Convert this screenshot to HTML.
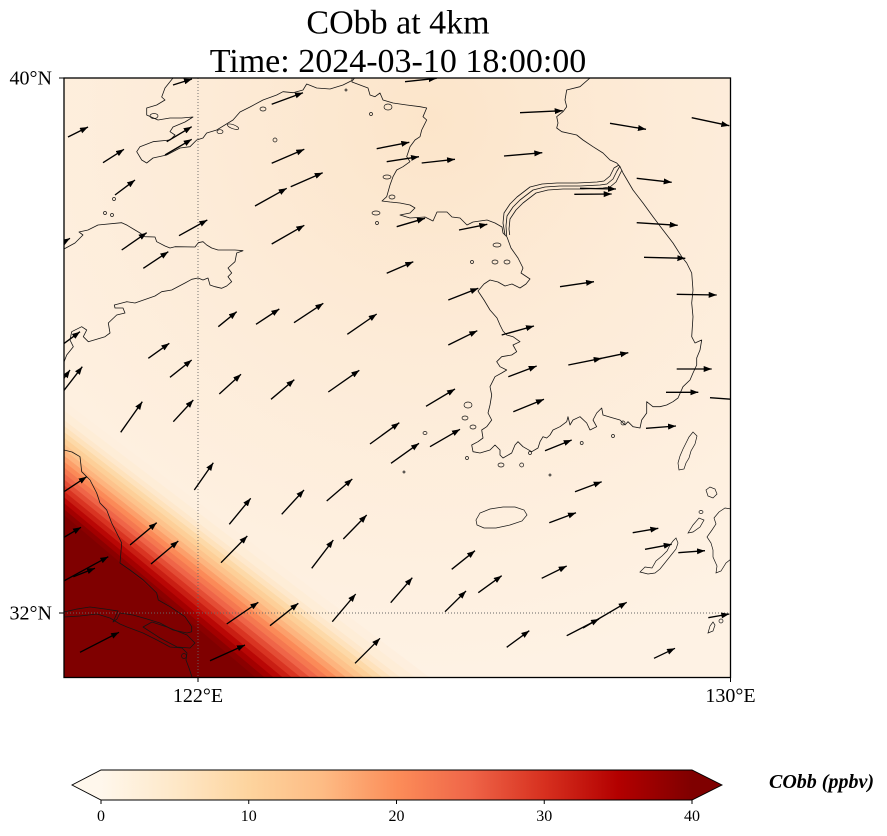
<!DOCTYPE html>
<html><head><meta charset="utf-8"><style>
html,body{margin:0;padding:0;background:#fff}
svg{display:block}
.c{fill:none;stroke:#151515;stroke-width:0.8;stroke-linejoin:round}
.i{fill:none;stroke:#151515;stroke-width:0.7}
.a{stroke:#000;stroke-width:1.35;fill:none;marker-end:url(#ah)}
.t{font-family:"Liberation Serif",serif;fill:#000}
</style></head><body>
<svg width="887" height="836" viewBox="0 0 887 836" xmlns="http://www.w3.org/2000/svg">
<defs>
<marker id="ah" markerUnits="userSpaceOnUse" markerWidth="9" markerHeight="7" viewBox="0 0 9 7" refX="8" refY="3" orient="auto"><path d="M0,0 L8,3 L0,6 Z" fill="#000"/></marker>
<clipPath id="mc"><rect x="64" y="78" width="666.5" height="599.5"/></clipPath>
<radialGradient id="bg" gradientUnits="userSpaceOnUse" cx="430" cy="120" r="560">
<stop offset="0" stop-color="#fce5ca"/><stop offset="0.4" stop-color="#fdebd7"/><stop offset="1" stop-color="#fef2e4"/>
</radialGradient>
<linearGradient id="cb" gradientUnits="userSpaceOnUse" x1="101" y1="0" x2="692" y2="0">
<stop offset="0" stop-color="#fff7ec"/><stop offset="0.125" stop-color="#fee8c8"/><stop offset="0.25" stop-color="#fdd49e"/><stop offset="0.375" stop-color="#fdbb84"/><stop offset="0.5" stop-color="#fc8d59"/><stop offset="0.625" stop-color="#ef6548"/><stop offset="0.75" stop-color="#d7301f"/><stop offset="0.875" stop-color="#b30000"/><stop offset="1" stop-color="#7f0000"/>
</linearGradient>
</defs>

<text class="t" x="398" y="33.5" font-size="34" text-anchor="middle">CObb at 4km</text>
<text class="t" x="398" y="72" font-size="34" text-anchor="middle">Time: 2024-03-10 18:00:00</text>

<g clip-path="url(#mc)">
<rect x="64" y="78" width="667" height="600" fill="url(#bg)"/>
<polygon points="64,401 429,677 64,677" fill="#feefde"/>
<polygon points="64,410.5 414.5,677 64,677" fill="#feedd7"/>
<polygon points="64,420 400,677 64,677" fill="#fee8cc"/>
<polygon points="64,425.9 390.9,677 64,677" fill="#fee2bc"/>
<polygon points="64,431.9 381.9,677 64,677" fill="#fdd9a8"/>
<polygon points="64,437.8 372.8,677 64,677" fill="#fdcf98"/>
<polygon points="64,443.8 363.8,677 64,677" fill="#fdc38c"/>
<polygon points="64,449.7 354.7,677 64,677" fill="#fdb47e"/>
<polygon points="64,455.6 345.6,677 64,677" fill="#fc9f6a"/>
<polygon points="64,461.6 336.6,677 64,677" fill="#fb8a58"/>
<polygon points="64,467.5 327.5,677 64,677" fill="#f57850"/>
<polygon points="64,473.4 318.4,677 64,677" fill="#ef6548"/>
<polygon points="64,479.4 309.4,677 64,677" fill="#e44d35"/>
<polygon points="64,485.3 300.3,677 64,677" fill="#d93422"/>
<polygon points="64,491.3 291.3,677 64,677" fill="#c91e13"/>
<polygon points="64,497.2 282.2,677 64,677" fill="#b90705"/>
<polygon points="64,503.1 273.1,677 64,677" fill="#a30000"/>
<polygon points="64,509.1 264.1,677 64,677" fill="#8b0000"/>
<polygon points="64,515 255,677 64,677" fill="#7f0000"/>

<line x1="198" y1="78" x2="198" y2="677" stroke="#666" stroke-width="0.9" stroke-dasharray="1,2"/>
<line x1="64" y1="613" x2="731" y2="613" stroke="#666" stroke-width="0.9" stroke-dasharray="1,2"/>

<path class="c" d="M173,78 L165,88 L161.7,97 L165,100 L156.7,105 L146.7,108 L146.7,115 L158,120 L170,118 L181.7,118 L193,117 L185,122 L173,127 L170,131.7 L175,135 L170,140 L153,141.7 L140,146.7 L136.7,151.7 L141.7,160 L146.7,163 L153,158 L166.7,155 L180,148 L190,146.7 L196.7,140 L203,138 L206.7,133 L216.7,130 L233,120 L240,112 L250,107 L263,100 L276.7,95 L283,91.7 L293,92.7 L303,90 L306.7,84 L316.7,88 L330,89 L343,85 L353,80 L356,76"/>
<path class="c" d="M352,76 L352,82 L360,85 L368,88 L370,95 L375,96.7 L380,93 L383,100 L393,103 L406.7,105 L420,106.7 L426.7,108 L423,116.7 L426.7,120 L421.7,130 L420,136.7 L415,140 L410,146.7 L406.7,156.7 L410,161.7 L403,166.7 L396.7,170 L393,176.7 L390,185 L386.7,196.7 L382,201 L390,202 L400,203 L410,205 L415,208 L410,213 L400,215 L410,218 L425,217 L433,221 L437,212 L447,212 L452,217 L460,218 L467,225 L473,222 L487,220 L495,223 L502,227 L503,233 L507,237 L511,248 L518,258 L523,268 L521,273 L530,279 L526,284 L520,288 L512,284 L505,286 L498,282 L490,280 L484,284 L478,291 L484,300 L490,310 L497,318 L500,325 L503,331 L506.7,335 L513,336.7 L520,341.7 L513,345 L516.7,351.7 L511.7,355 L501.7,356.7 L496.7,361.7 L500,366.7 L506.7,370 L501.7,373 L495,376.7 L490,386.7 L491.7,395 L490,405 L488,413 L491.7,420 L486.7,426.7 L481.7,430 L483,438 L478,441.7 L471.7,445 L473,451.7 L480,453 L490,450 L495,445 L500,450 L500,455 L503,458 L511.7,453 L515,445 L518,441.7 L523,446.7 L531.7,451.7 L538,448 L540,441.7 L543,436.7 L546.7,438 L550,435 L553,430 L560,426.7 L566.7,421.7 L568,416.7 L570,425 L573,420 L580,416.7 L586.7,423 L590,430 L596.7,426.7 L593,420 L596.7,413 L601.7,408 L603,415 L613,418 L620,420 L625,425 L628,421.7 L633,426.7 L640,428 L641.7,420 L646.7,413 L646.7,401.7 L653,406.7 L660,406.7 L666.7,405 L673,401.7 L678,398 L683,386.7 L690,380 L693,373 L696.7,365 L696.7,358 L700,350 L701.7,340 L695,343 L691.7,336.7 L693,316.7 L691.7,303 L693,290 L691.7,273 L686.7,263 L681.7,256.7 L673,243 L663,230 L653,216.7 L643,203 L633,190 L623,173 L620,166.7 L616.7,163 L610,160 L603,153 L593,146.7 L583,140 L576.7,135 L561.7,131.7 L556.7,128 L558,123 L556.7,116.7 L563,111.7 L566.7,106.7 L565,100 L566.7,90 L580,86.7 L590,78 L592,75"/>
<g class="c">
<path d="M506.7,236 L506,226 L507,216 L513,207 L520,200 L533,190 L545,187 L560,186 L580,186 L600,185 L607,184 L613,179 L617,171 L620,166"/>
<path transform="translate(3,3)" d="M506.7,232 L506,226 L507,216 L513,207 L520,200 L533,190 L545,187 L560,186 L580,186 L600,185 L607,184 L613,179 L617,171 L619,167"/>
<path transform="translate(-3,-3)" d="M508,238 L506,226 L507,216 L513,207 L520,200 L533,190 L545,187 L560,186 L580,186 L600,185 L607,184 L613,179 L617,171 L622,168"/>
</g>
<path class="c" d="M64,249 L75,243 L83,235 L79,232 L88,230 L98,225 L121.7,222.7 L126.7,225 L135,230 L140,233 L145,236.7 L155,237 L156.7,241.7 L165,246 L170,248 L175,246.7 L195,247 L198.3,242.7 L203,241.7 L206.7,245 L211.7,248 L218,250 L235,250 L243,250.7 L236.7,253 L235,261.7 L228,268 L231.7,273 L228,276.7 L231.7,281.7 L226.7,286 L221.7,288.3 L215,286.7 L210,285 L208,278 L203,280 L198,278 L191.7,279.3 L185,283 L171.7,290 L161.7,291.7 L155,296 L135,303 L126.7,301.7 L114.3,305 L115,308 L123,308 L125,313 L116.7,315 L108.3,323 L110,333 L105,336.7 L88.3,341.7 L83.3,336.7 L86.7,330 L81.7,326.7 L71.7,331.7 L70,340 L73.3,346.7 L66.7,355 L64,362"/>
<path class="c" d="M64,450 L72,452 L80,456.7 L81.7,471.7 L90,480 L96.7,493 L100,503 L106.7,510 L111.7,523 L116.7,533 L121.7,543 L120,563 L130,570 L143.3,580 L156.7,593 L158.3,600 L170,606.7 L185,616.7 L191.7,626.7 L191.7,631.7 L187,633 L173,630 L160,623 L147,619 L133,615 L120,613 L117,619 L113,622 L118,611 L105,609 L90,607 L77,609 L64,612"/>
<path class="c" d="M64,617 L80,616 L97,614 L110,618 L120,624 L127,627 L143,633 L157,640 L170,647 L182,648 L187,653 L186,660 L189,668 L192,677"/>
<path class="c" d="M143,627 L152,622 L167,627 L187,635 L195,643 L190,648 L177,647 L160,638 Z"/>
<circle class="i" cx="184" cy="656" r="2.5"/>
<g class="i">
<ellipse cx="154" cy="116" rx="4" ry="2.5"/>
<ellipse cx="220" cy="131.7" rx="3" ry="2"/>
<ellipse cx="233" cy="126.7" rx="6" ry="2" transform="rotate(20 233 126.7)"/>
<ellipse cx="263" cy="109" rx="3" ry="2"/>
<circle cx="275" cy="140" r="2"/>
<circle cx="105" cy="213" r="1.5"/>
<circle cx="112" cy="215" r="1.5"/>
<circle cx="114" cy="199" r="1.5"/>
<circle cx="346" cy="90" r="1"/>
<circle cx="371" cy="114" r="1.5"/>
<ellipse cx="388" cy="107" rx="4" ry="3"/>
<ellipse cx="387" cy="177" rx="4" ry="2"/>
<ellipse cx="392" cy="197" rx="3" ry="2"/>
<ellipse cx="376" cy="213" rx="4" ry="2"/>
<circle cx="377" cy="223" r="1.5"/>
<ellipse cx="497" cy="245" rx="4" ry="2"/>
<circle cx="472" cy="262" r="1.5"/>
<ellipse cx="495" cy="262" rx="3" ry="2"/>
<ellipse cx="507" cy="262" rx="3" ry="2"/>
<ellipse cx="468" cy="405" rx="4" ry="3"/>
<ellipse cx="465" cy="418" rx="3" ry="2"/>
<ellipse cx="473" cy="427" rx="3" ry="2"/>
<circle cx="467" cy="458" r="1.5"/>
<ellipse cx="501" cy="465" rx="3" ry="2"/>
<circle cx="521.7" cy="465" r="2"/>
<circle cx="530" cy="453" r="1.5"/>
<circle cx="550" cy="475" r="1"/>
<circle cx="581.7" cy="443" r="1.5"/>
<circle cx="613" cy="436" r="1.5"/>
<circle cx="623" cy="423" r="2"/>
<ellipse cx="425" cy="433" rx="2" ry="1.5"/>
<circle cx="404" cy="472" r="1"/>
<path d="M476,520 L480,513 L490,509 L503,507 L515,507 L524,510 L527,515 L522,521 L510,525 L496,528 L484,528 L477,525 Z"/>
<path d="M693,432 L697,436 L695,444 L691,451 L689,458 L686,463 L684,469 L679,470 L678,463 L680,456 L683,449 L686,443 L689,437 Z"/>
<path d="M706,490 L710,487 L715,489 L717,494 L713,498 L708,496 Z"/>
<path d="M688,533 L693,525 L699,518 L704,520 L700,527 L693,532 Z"/>
<path d="M731,509 L725,508 L719,512 L714,518 L716,524 L712,530 L707,537 L711,543 L713,550 L713,557 L717,566 L716,573 L721,571 L726,563 L731,559"/>
<path d="M640,572 L645,567 L652,568 L656,561 L662,556 L667,551 L670,545 L673,541 L676,538 L678,543 L676,549 L672,554 L668,559 L664,564 L660,569 L655,573 L648,574 Z"/>
<ellipse cx="701" cy="512" rx="2" ry="1.5"/>
<path d="M708,633 L710,626 L713,622 L715,625 L713,631 Z"/>
<circle cx="721" cy="621" r="2"/>
</g>

<g>
<path class="a" d="M173,85 L192,79"/>
<path class="a" d="M405,81.7 L436.7,78.3"/>
<path class="a" d="M68,137 L88,127"/>
<path class="a" d="M271.7,104.3 L303,92.7"/>
<path class="a" d="M166.7,141.7 L191.7,126.7"/>
<path class="a" d="M165,155 L191.7,139.3"/>
<path class="a" d="M103,162.7 L124,149.3"/>
<path class="a" d="M115,195 L135,180"/>
<path class="a" d="M376.7,148.7 L409.3,142.3"/>
<path class="a" d="M386.7,161.7 L419,156.7"/>
<path class="a" d="M421.7,163 L455,159.3"/>
<path class="a" d="M520,112.7 L562.7,110.7"/>
<path class="a" d="M610,123.3 L646,129.3"/>
<path class="a" d="M691.7,117.7 L729.3,125.7"/>
<path class="a" d="M504,156 L542.3,152.7"/>
<path class="a" d="M271.7,163.3 L304.3,149.3"/>
<path class="a" d="M255,206 L286.7,188.3"/>
<path class="a" d="M290.7,186.7 L322.7,172.7"/>
<path class="a" d="M271.7,244 L304.3,225.3"/>
<path class="a" d="M179,235.7 L207.3,220"/>
<path class="a" d="M121.7,250 L146.7,232.7"/>
<path class="a" d="M143.3,268.3 L168.3,251.7"/>
<path class="a" d="M218.3,326.7 L236.7,311.7"/>
<path class="a" d="M148.3,358.3 L169.3,343.3"/>
<path class="a" d="M170,377.3 L191.7,360"/>
<path class="a" d="M219.3,394 L241,374.3"/>
<path class="a" d="M120.7,432.3 L142.3,401.7"/>
<path class="a" d="M173.3,421.7 L193.3,400"/>
<path class="a" d="M62,345 L80,331.7"/>
<path class="a" d="M62,393 L82.3,366.7"/>
<path class="a" d="M62,381 L70,370"/>
<path class="a" d="M62,243 L70,238.3"/>
<path class="a" d="M256,324.3 L279.3,309"/>
<path class="a" d="M294,322.7 L323.3,303.3"/>
<path class="a" d="M347.3,334.3 L376.7,314"/>
<path class="a" d="M271,399.3 L294.3,379.7"/>
<path class="a" d="M328.3,392 L359.3,370.3"/>
<path class="a" d="M448.3,345 L477.3,330.7"/>
<path class="a" d="M448.3,300 L478.3,288.3"/>
<path class="a" d="M501.7,335 L534,326"/>
<path class="a" d="M386.7,273.3 L413.3,261.7"/>
<path class="a" d="M459,230 L487.3,224.3"/>
<path class="a" d="M396.7,226.7 L425,218.3"/>
<path class="a" d="M568.3,365 L601.7,358.3"/>
<path class="a" d="M596.7,359.3 L628.3,352.7"/>
<path class="a" d="M636.7,178.3 L671.7,182.3"/>
<path class="a" d="M580,188.3 L616,189"/>
<path class="a" d="M574.3,194.3 L611.7,194"/>
<path class="a" d="M636.7,222.7 L677.7,225.3"/>
<path class="a" d="M644,257.3 L685.3,258.3"/>
<path class="a" d="M676.7,294.3 L716.7,295"/>
<path class="a" d="M560,286.7 L594,281.7"/>
<path class="a" d="M508.3,376.7 L536.7,366"/>
<path class="a" d="M676.7,369 L711.7,369"/>
<path class="a" d="M666,392.3 L698.3,392.3"/>
<path class="a" d="M710,397.7 L738,399.8"/>
<path class="a" d="M513.3,411.7 L544,399.3"/>
<path class="a" d="M426,406.3 L455,389"/>
<path class="a" d="M430,446.7 L460,429.3"/>
<path class="a" d="M545,450.7 L571.7,440"/>
<path class="a" d="M646,428.3 L676,426"/>
<path class="a" d="M575,491.7 L601.7,481.7"/>
<path class="a" d="M549.3,522.7 L576,512.7"/>
<path class="a" d="M632.7,532.7 L658.3,528.3"/>
<path class="a" d="M645,549.3 L671.7,544.3"/>
<path class="a" d="M678.3,552.7 L705,550.7"/>
<path class="a" d="M451.7,569.3 L475,550.7"/>
<path class="a" d="M541.7,578.3 L566.7,566"/>
<path class="a" d="M478.3,592.7 L501.7,575.7"/>
<path class="a" d="M390.7,602.7 L412.3,577.7"/>
<path class="a" d="M445,611.7 L466,591"/>
<path class="a" d="M506.7,647.3 L529.3,630.7"/>
<path class="a" d="M566.7,635.7 L599,619"/>
<path class="a" d="M583,628 L626.7,602.3"/>
<path class="a" d="M654,658.3 L675,648.3"/>
<path class="a" d="M708.3,617.7 L729.3,614"/>
<path class="a" d="M370,444 L399.3,422.7"/>
<path class="a" d="M391,463.3 L419,443.3"/>
<path class="a" d="M194.3,490 L213.3,462.7"/>
<path class="a" d="M229.3,524.3 L250.7,498.3"/>
<path class="a" d="M281.7,514.3 L304,490"/>
<path class="a" d="M326.7,501 L352.3,479"/>
<path class="a" d="M343.3,539 L366.7,515"/>
<path class="a" d="M221,562.7 L247.3,536"/>
<path class="a" d="M311.7,568.3 L333.3,540"/>
<path class="a" d="M62,493 L86.7,476.7"/>
<path class="a" d="M62,538.5 L81,527.3"/>
<path class="a" d="M130,545 L156.7,522.7"/>
<path class="a" d="M151,564 L178.3,541"/>
<path class="a" d="M62,582 L108.3,556.7"/>
<path class="a" d="M73.3,576.7 L95,568.3"/>
<path class="a" d="M226.7,624 L258.3,602.3"/>
<path class="a" d="M270,625.7 L298.3,603.3"/>
<path class="a" d="M332.3,621.7 L355.7,594"/>
<path class="a" d="M80,652.3 L119,632.3"/>
<path class="a" d="M210,660.7 L245,645"/>
<path class="a" d="M355,663.3 L380,638.3"/>
</g>
</g>

<rect x="64" y="78" width="666.5" height="599.5" fill="none" stroke="#000" stroke-width="1.3"/>
<g stroke="#000" stroke-width="1">
<line x1="59" y1="78" x2="64" y2="78"/>
<line x1="59" y1="613" x2="64" y2="613"/>
<line x1="198" y1="677.5" x2="198" y2="682"/>
<line x1="730.5" y1="677.5" x2="730.5" y2="682"/>
</g>
<text class="t" x="52" y="84.5" font-size="20" text-anchor="end">40°N</text>
<text class="t" x="52" y="619.5" font-size="20" text-anchor="end">32°N</text>
<text class="t" x="198" y="702" font-size="20" text-anchor="middle">122°E</text>
<text class="t" x="730.5" y="702" font-size="20" text-anchor="middle">130°E</text>

<rect x="101" y="770" width="591" height="30" fill="url(#cb)"/>
<polygon points="101,770 72,785 101,800" fill="#fff7ec"/>
<polygon points="692,770 722,785 692,800" fill="#7f0000"/>
<polygon points="101,770 692,770 722,785 692,800 101,800 72,785" fill="none" stroke="#000" stroke-width="0.9"/>
<g stroke="#000" stroke-width="1">
<line x1="101" y1="800" x2="101" y2="804"/>
<line x1="248.75" y1="800" x2="248.75" y2="804"/>
<line x1="396.5" y1="800" x2="396.5" y2="804"/>
<line x1="544.25" y1="800" x2="544.25" y2="804"/>
<line x1="692" y1="800" x2="692" y2="804"/>
</g>
<g class="t" font-size="16" text-anchor="middle">
<text x="101" y="821">0</text>
<text x="248.75" y="821">10</text>
<text x="396.5" y="821">20</text>
<text x="544.25" y="821">30</text>
<text x="692" y="821">40</text>
</g>
<text class="t" x="769" y="788" font-size="20" font-weight="bold" font-style="italic">CObb (ppbv)</text>
</svg>
</body></html>
